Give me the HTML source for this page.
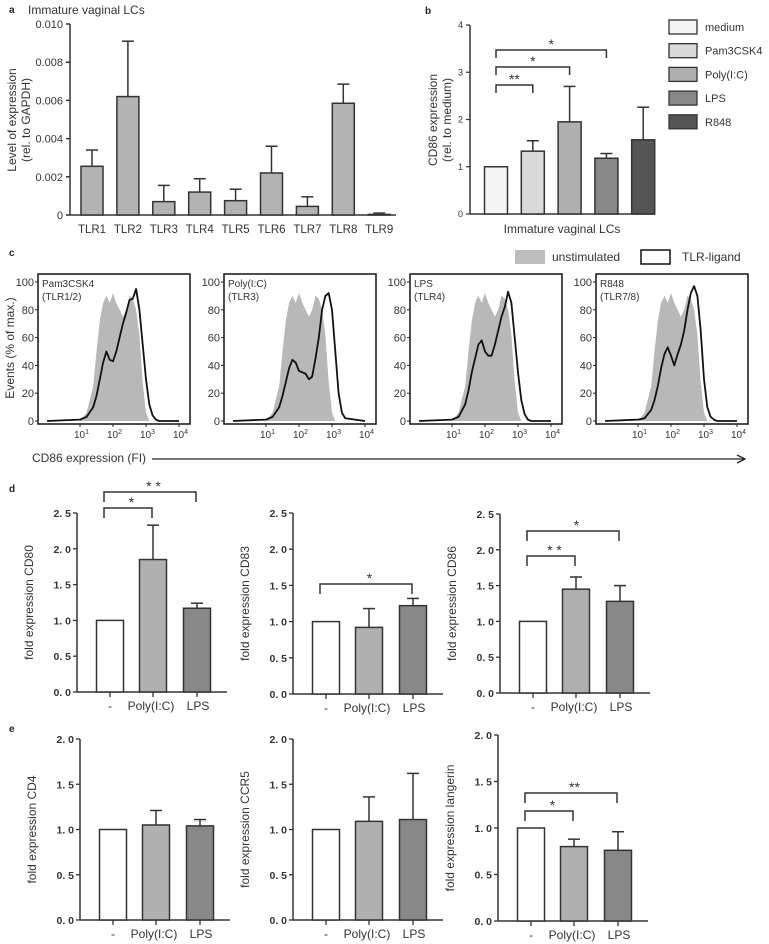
<!DOCTYPE html>
<html><head><meta charset="utf-8">
<style>
html,body{margin:0;padding:0;background:#fff;}
svg{display:block;font-family:"Liberation Sans",Arial,sans-serif;}
</style></head>
<body>
<svg id="fig" width="769" height="944" viewBox="0 0 769 944" xmlns="http://www.w3.org/2000/svg">
<g id="pa"></g>
<g id="pb"></g>
<g id="pc"></g>
<g id="pd"></g>
<g id="pe"></g>
</svg>
<script>
// ---- Panel a data ----
const aCategories = ["TLR1","TLR2","TLR3","TLR4","TLR5","TLR6","TLR7","TLR8","TLR9"];
const aValues = [0.00255,0.0062,0.0007,0.0012,0.00075,0.0022,0.00045,0.00585,0.00003];
const aErrors = [0.0034,0.0091,0.00155,0.0019,0.00135,0.0036,0.00095,0.00685,0.0001];
const aTicks = [0,0.002,0.004,0.006,0.008,0.010];
const aTickLabels = ["0","0.002","0.004","0.006","0.008","0.010"];
// ---- Panel b data ----
const bCategories = ["medium","Pam3CSK4","Poly(I:C)","LPS","R848"];
const bValues = [1.0,1.33,1.95,1.18,1.57];
const bErrors = [1.0,1.55,2.7,1.28,2.26];
const bTicks = [0,1,2,3,4];
// ---- Panel c data ----
const cLogGrid = [0,1.0,1.2,1.4,1.5,1.6,1.7,1.8,1.9,2.0,2.1,2.2,2.3,2.4,2.5,2.6,2.7,2.8,2.9,3.0,3.1,3.2,3.3,3.4,4.0];
const cGray = [0,0,6,25,50,72,85,90,85,92,85,80,75,80,90,88,80,62,28,6,0,0,0,0,0];
const cBlackPam = [0,1,3,10,18,30,42,50,44,43,50,60,70,78,87,88,95,80,55,30,12,4,1,0,0];
const cBlackPoly = [0,1,3,10,18,28,38,44,42,36,35,34,30,32,45,60,80,90,92,80,50,20,6,2,0];
const cBlackLPS = [0,1,3,12,22,35,45,55,58,50,47,47,55,65,75,82,93,85,60,35,15,5,1,0,0];
const cBlackR848 = [0,1,2,8,15,25,38,48,53,47,40,48,55,65,80,92,97,90,65,30,10,3,1,0,0];
const cYTicks = [0,20,40,60,80,100];
const cXTicks = [1,2,3,4];
// ---- Panel d/e data ----
const deCategories = ["-","Poly(I:C)","LPS"];
const dCD80 = [1.0,1.85,1.17];  const dCD80Err = [1.0,2.33,1.24];
const dCD83 = [1.0,0.92,1.22];  const dCD83Err = [1.0,1.18,1.32];
const dCD86 = [1.0,1.45,1.28];  const dCD86Err = [1.0,1.62,1.50];
const eCD4 = [1.0,1.05,1.04];   const eCD4Err = [1.0,1.21,1.11];
const eCCR5 = [1.0,1.09,1.11];  const eCCR5Err = [1.0,1.36,1.62];
const eLang = [1.0,0.80,0.76];  const eLangErr = [1.0,0.88,0.96];
const dTicks = [0,0.5,1.0,1.5,2.0,2.5];
const eTicks = [0,0.5,1.0,1.5,2.0];

const NS="http://www.w3.org/2000/svg";
function mk(parent,tag,attrs,text){
  const el=document.createElementNS(NS,tag);
  for(const k in attrs) el.setAttribute(k,attrs[k]);
  if(text!==undefined) el.textContent=text;
  parent.appendChild(el); return el;
}
const ST="#333";

// ===== Panel a =====
(function(){
  const g=document.getElementById('pa');
  let t=mk(g,'text',{x:9,y:13,'font-size':10,'font-weight':'bold',fill:'#222'},'a');
   
  t=mk(g,'text',{x:28,y:14,'font-size':12,fill:'#333'},'Immature vaginal LCs');
   
  const x0=70, y0=215, y1=24, max=0.010;
  const ys=v=>y0-(v/max)*(y0-y1);
  const xs=i=>92+i*35.9;
  mk(g,'line',{x1:x0,y1:y1,x2:x0,y2:y0,stroke:ST,'stroke-width':1.5});
  mk(g,'line',{x1:x0,y1:y0,x2:396,y2:y0,stroke:ST,'stroke-width':1.5});
  aTicks.forEach((v,i)=>{
    mk(g,'line',{x1:x0-4,y1:ys(v),x2:x0,y2:ys(v),stroke:ST,'stroke-width':1.5});
    const tl=mk(g,'text',{x:x0-7,y:ys(v)+4,'font-size':11,'text-anchor':'end',fill:'#333'},aTickLabels[i]);
     
  });
  aCategories.forEach((c,i)=>{
    const cx=xs(i),w=22;
    mk(g,'line',{x1:cx,y1:ys(aErrors[i]),x2:cx,y2:ys(aValues[i]),stroke:ST,'stroke-width':1.5});
    mk(g,'line',{x1:cx-6,y1:ys(aErrors[i]),x2:cx+6,y2:ys(aErrors[i]),stroke:ST,'stroke-width':1.5});
    const b=mk(g,'rect',{x:cx-w/2,y:ys(aValues[i]),width:w,height:y0-ys(aValues[i]),fill:'#b3b3b3',stroke:ST,'stroke-width':1.5});
     
    const l=mk(g,'text',{x:cx,y:233,'font-size':11.5,'text-anchor':'middle',fill:'#333'},c);
     
  });
  const yl=mk(g,'text',{transform:'translate(16,120) rotate(-90)','font-size':12,'text-anchor':'middle',fill:'#333'});
   
  mk(yl,'tspan',{x:0,y:0},'Level of expression');
  mk(yl,'tspan',{x:0,y:14},'(rel. to GAPDH)');
})();

// ===== Panel b =====
(function(){
  const g=document.getElementById('pb');
  let t=mk(g,'text',{x:425,y:14,'font-size':10,'font-weight':'bold',fill:'#222'},'b');
   
  const x0=470,y0=214,y1=25,max=4;
  const ys=v=>y0-(v/max)*(y0-y1);
  const xs=i=>496+i*36.8;
  const fills=['#f4f4f4','#d9d9d9','#b0b0b0','#888888','#555555'];
  mk(g,'line',{x1:x0,y1:y1,x2:x0,y2:y0,stroke:ST,'stroke-width':1.5});
  mk(g,'line',{x1:x0,y1:y0,x2:655,y2:y0,stroke:ST,'stroke-width':1.5});
  bTicks.forEach(v=>{
    mk(g,'line',{x1:x0-4,y1:ys(v),x2:x0,y2:ys(v),stroke:ST,'stroke-width':1.2});
    const tl=mk(g,'text',{x:x0-7,y:ys(v)+3,'font-size':9,'text-anchor':'end',fill:'#333'},String(v));
     
  });
  bCategories.forEach((c,i)=>{
    const cx=xs(i),w=23;
    mk(g,'line',{x1:cx,y1:ys(bErrors[i]),x2:cx,y2:ys(bValues[i]),stroke:ST,'stroke-width':1.5});
    mk(g,'line',{x1:cx-6,y1:ys(bErrors[i]),x2:cx+6,y2:ys(bErrors[i]),stroke:ST,'stroke-width':1.5});
    const b=mk(g,'rect',{x:cx-w/2,y:ys(bValues[i]),width:w,height:y0-ys(bValues[i]),fill:fills[i],stroke:ST,'stroke-width':1.5});
     
    const ly=20+i*23.7;
    const lb=mk(g,'rect',{x:669,y:ly,width:28,height:14,fill:fills[i],stroke:ST,'stroke-width':1.3});
     
    const lt=mk(g,'text',{x:705,y:ly+11,'font-size':11,fill:'#333'},c);
     
  });
  const br=[[0,1,85,'**'],[0,2,67,'*'],[0,3,50,'*']];
  br.forEach(([a,b,y,s])=>{
    const p=mk(g,'path',{d:`M${xs(a)} ${y+8} V${y} H${xs(b)} V${y+8}`,fill:'none',stroke:ST,'stroke-width':1.5});
     
    const st=mk(g,'text',{x:(xs(a)+xs(b))/2,y:y-1,'font-size':14,'text-anchor':'middle',fill:'#333'},s);
     
  });
  const xl=mk(g,'text',{x:562,y:233,'font-size':12,'text-anchor':'middle',fill:'#333'},'Immature vaginal LCs');
   
  const yl=mk(g,'text',{transform:'translate(437,120) rotate(-90)','font-size':12,'text-anchor':'middle',fill:'#333'});
   
  mk(yl,'tspan',{x:0,y:0},'CD86 expression');
  mk(yl,'tspan',{x:0,y:14},'(rel. to medium)');
})();

// ===== Panel c =====
(function(){
  const g=document.getElementById('pc');
  let t=mk(g,'text',{x:9,y:256,'font-size':10,'font-weight':'bold',fill:'#222'},'c');
   
  let r=mk(g,'rect',{x:515,y:250,width:30,height:14,fill:'#bdbdbd'});
   
  t=mk(g,'text',{x:552,y:261,'font-size':12,fill:'#333'},'unstimulated');
   
  r=mk(g,'rect',{x:641,y:250,width:29,height:14,fill:'#fff',stroke:'#111','stroke-width':1.5});
   
  t=mk(g,'text',{x:682,y:261,'font-size':12,fill:'#333'},'TLR-ligand');
   
  const yl=mk(g,'text',{transform:'translate(14,348) rotate(-90)','font-size':12,'text-anchor':'middle',fill:'#333'},'Events (% of max.)');
   
  const xl=mk(g,'text',{x:32,y:462,'font-size':12,fill:'#333'},'CD86 expression  (FI)');
   
  mk(g,'line',{x1:152,y1:459,x2:744,y2:459,stroke:'#222','stroke-width':1.3});
  mk(g,'path',{d:'M737 455 L745 459 L737 463',fill:'none',stroke:'#222','stroke-width':1.3});
  const panels=[[38,'Pam3CSK4','(TLR1/2)',cBlackPam],[224,'Poly(I:C)','(TLR3)',cBlackPoly],[410,'LPS','(TLR4)',cBlackLPS],[596,'R848','(TLR7/8)',cBlackR848]];
  panels.forEach(([L,n1,n2,black])=>{
    const W=152, top=274, bot=424, y0=421, y100=282;
    const xs=l=>L+9+l*33, ys=v=>y0-(v/100)*(y0-y100);
    const sg=mk(g,'g',{});
     
    let d=`M${xs(cLogGrid[0])} ${ys(0)}`;
    cLogGrid.forEach((l,i)=>{d+=` L${xs(l)} ${ys(cGray[i])}`;});
    d+=` L${xs(cLogGrid[cLogGrid.length-1])} ${ys(0)} Z`;
    const ga=mk(sg,'path',{d:d,fill:'#b8b8b8',stroke:'none'});
     
    let d2='';
    cLogGrid.forEach((l,i)=>{d2+=(i?' L':'M')+xs(l)+' '+ys(black[i]);});
    const bl=mk(sg,'path',{d:d2,fill:'none',stroke:'#111','stroke-width':1.8,'stroke-linejoin':'round'});
     
    mk(sg,'rect',{x:L,y:top,width:W,height:bot-top,fill:'none',stroke:'#222','stroke-width':1.6});
    cYTicks.forEach(v=>{
      mk(sg,'line',{x1:L-3,y1:ys(v),x2:L,y2:ys(v),stroke:'#222','stroke-width':1});
      const tl=mk(sg,'text',{x:L-4,y:ys(v)+4,'font-size':11,'text-anchor':'end',fill:'#333'},String(v));
       
    });
    cXTicks.forEach(l=>{
      mk(sg,'line',{x1:xs(l),y1:bot,x2:xs(l),y2:bot+3,stroke:'#222','stroke-width':1});
      const tl=mk(sg,'text',{x:xs(l)-6,y:bot+14,'font-size':10,fill:'#333'},'10');
       
      mk(tl,'tspan',{dy:-4,'font-size':7},String(l));
    });
    let a=mk(sg,'text',{x:L+4,y:top+13,'font-size':10,fill:'#333'},n1);
     
    a=mk(sg,'text',{x:L+4,y:top+26,'font-size':10,fill:'#333'},n2);
     
  });
})();

// ===== Panels d/e bar charts =====
function barChart(g,name,o,vals,errs,ticks,brackets,ylabel){
  const sg=mk(g,'g',{});
   
  const max=ticks[ticks.length-1];
  const ys=v=>o.y0-(v/max)*(o.y0-o.y1);
  const centers=[o.x0+33,o.x0+76,o.x0+120];
  const fills=['#fff','#b0b0b0','#888'];
  mk(sg,'line',{x1:o.x0,y1:o.y1,x2:o.x0,y2:o.y0,stroke:ST,'stroke-width':1.5});
  mk(sg,'line',{x1:o.x0,y1:o.y0,x2:o.x0+150,y2:o.y0,stroke:ST,'stroke-width':1.5});
  ticks.forEach(v=>{
    mk(sg,'line',{x1:o.x0-4,y1:ys(v),x2:o.x0,y2:ys(v),stroke:ST,'stroke-width':1.3});
    const tl=mk(sg,'text',{x:o.x0-6,y:ys(v)+4,'font-size':10.5,'font-weight':'bold','text-anchor':'end',fill:'#333'},v.toFixed(1).replace('.','. '));
     
  });
  deCategories.forEach((c,i)=>{
    const cx=centers[i],w=27;
    mk(sg,'line',{x1:cx,y1:o.y0,x2:cx,y2:o.y0+5,stroke:ST,'stroke-width':1.3});
    if(errs[i]>vals[i]){
      mk(sg,'line',{x1:cx,y1:ys(errs[i]),x2:cx,y2:ys(vals[i]),stroke:ST,'stroke-width':1.5});
      mk(sg,'line',{x1:cx-6,y1:ys(errs[i]),x2:cx+6,y2:ys(errs[i]),stroke:ST,'stroke-width':1.5});
    }
    const b=mk(sg,'rect',{x:cx-w/2,y:ys(vals[i]),width:w,height:o.y0-ys(vals[i]),fill:fills[i],stroke:ST,'stroke-width':1.5});
     
    const l=mk(sg,'text',{x:cx+(i==1?-2:i==2?1:0),y:o.y0+18,'font-size':12,'text-anchor':'middle',fill:'#333'},c);
     
  });
  brackets.forEach(([a,b,y,s])=>{
    const p=mk(sg,'path',{d:`M${centers[a]-6} ${y+10} V${y} H${centers[b]-1} V${y+10}`,fill:'none',stroke:ST,'stroke-width':1.5});
     
    const st=mk(sg,'text',{x:(centers[a]+centers[b])/2,y:y-1,'font-size':14,'text-anchor':'middle',fill:'#333'},s);
     
  });
  const yl=mk(sg,'text',{transform:`translate(${o.x0-44},${(o.y0+o.y1)/2}) rotate(-90)`,'font-size':12,'text-anchor':'middle',fill:'#333'},ylabel);
   
}
(function(){
  const g=document.getElementById('pd');
  const t=mk(g,'text',{x:9,y:492,'font-size':10,'font-weight':'bold',fill:'#222'},'d');
   
  barChart(g,'chart-cd80',{x0:77,y0:692,y1:513},dCD80,dCD80Err,dTicks,[[0,1,508,'*'],[0,2,492,'* *']],'fold expression CD80');
  barChart(g,'chart-cd83',{x0:293,y0:694,y1:513},dCD83,dCD83Err,dTicks,[[0,2,584,'*']],'fold expression CD83');
  barChart(g,'chart-cd86',{x0:500,y0:693,y1:514},dCD86,dCD86Err,dTicks,[[0,1,556,'* *'],[0,2,531,'*']],'fold expression CD86');
})();
(function(){
  const g=document.getElementById('pe');
  const t=mk(g,'text',{x:9,y:732,'font-size':10,'font-weight':'bold',fill:'#222'},'e');
   
  barChart(g,'chart-cd4',{x0:80,y0:920,y1:739},eCD4,eCD4Err,eTicks,[],'fold expression CD4');
  barChart(g,'chart-ccr5',{x0:293,y0:920,y1:739},eCCR5,eCCR5Err,eTicks,[],'fold expression CCR5');
  barChart(g,'chart-langerin',{x0:498,y0:921,y1:735},eLang,eLangErr,eTicks,[[0,1,811,'*'],[0,2,793,'**']],'fold expression langerin');
})();
</script>
</body></html>
